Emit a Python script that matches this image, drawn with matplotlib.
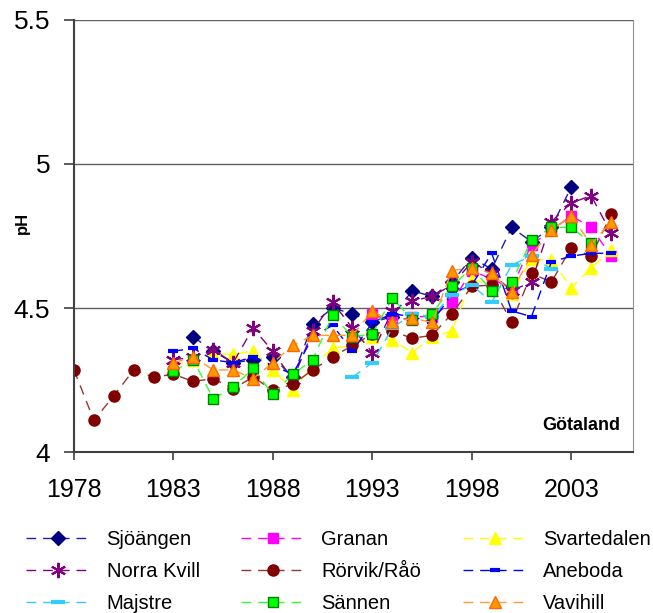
import numpy as np
import matplotlib
matplotlib.use("Agg")
from matplotlib import pyplot as plt
from matplotlib.ticker import FixedLocator, FuncFormatter

plt.rcParams['font.family'] = ['Liberation Sans', 'DejaVu Sans']

nan = np.nan
years = list(range(1978, 2006))

# pH per station, 1978..2005 (nan = no sample)
sjoangen = [nan] * 6 + [4.40, 4.35, 4.31, 4.32, 4.33, 4.26, 4.445, 4.50, 4.48, 4.45, 4.47, 4.56,
                        4.54, 4.59, 4.675, 4.635, 4.78, 4.73, 4.78, 4.92, nan, nan]
granan = [nan] * 15 + [4.48, 4.45, 4.47, 4.47, 4.52, 4.63, 4.60, 4.57, 4.72, 4.77, 4.82, 4.78, 4.68]
svartedalen = [nan] * 5 + [4.30, 4.32, 4.34, 4.34, 4.35, 4.285, 4.215, 4.30, 4.36, 4.37, 4.40, 4.39,
                           4.345, 4.40, 4.42, 4.60, 4.58, 4.55, 4.67, 4.665, 4.57, 4.64, 4.70]
norra_kvill = [nan] * 5 + [4.32, 4.33, 4.355, 4.31, 4.43, 4.35, 4.25, 4.42, 4.52, 4.43, 4.345, 4.49,
                           4.525, 4.54, 4.58, 4.66, 4.62, 4.56, 4.59, 4.80, 4.865, 4.89, 4.76]
rorvik = [4.285, 4.11, 4.195, 4.285, 4.26, 4.27, 4.245, 4.255, 4.22, 4.26, 4.215, 4.235, 4.285, 4.33,
          4.37, 4.41, 4.42, 4.395, 4.405, 4.48, 4.575, 4.58, 4.45, 4.62, 4.59, 4.71, 4.68, 4.825]
aneboda = [nan] * 5 + [4.35, 4.36, 4.32, 4.31, 4.33, 4.30, 4.27, 4.40, 4.44, 4.35, 4.45, 4.48,
                       4.47, 4.45, 4.55, 4.58, 4.69, 4.49, 4.47, 4.66, 4.68, 4.69, 4.69]
majstre = [nan] * 14 + [4.26, 4.31, 4.43, 4.48, 4.47, 4.545, 4.58, 4.52, 4.65, 4.68, 4.635, nan, nan, nan]
sannen = [nan] * 5 + [4.28, 4.32, 4.185, 4.225, 4.29, 4.20, 4.27, 4.32, 4.475, 4.40, 4.41, 4.535,
                      4.46, 4.48, 4.575, 4.64, 4.56, 4.59, 4.735, 4.78, 4.78, 4.725, nan]
vavihill = [nan] * 5 + [4.31, 4.33, 4.285, 4.285, 4.255, 4.31, 4.37, 4.405, 4.405, 4.405, 4.49, 4.45,
                        4.465, 4.45, 4.63, 4.64, 4.62, 4.555, 4.685, 4.77, 4.82, 4.72, 4.80]

# name, values, line colour, marker, marker size, face, edge
series = [
    ('Sjöängen', sjoangen, '#1F1F9F', 'D', 7, '#000080', '#000080'),
    ('Granan', granan, '#FF00FF', 's', 7, '#FF00FF', '#FF00FF'),
    ('Svartedalen', svartedalen, '#FFFF00', '^', 9, '#FFFF00', '#FFFF00'),
    ('Norra Kvill', norra_kvill, '#800080', (6, 2, 0), 11, '#800080', '#800080'),
    ('Rörvik/Råö', rorvik, '#993333', 'o', 8, '#800000', '#800000'),
    ('Aneboda', aneboda, '#0000FF', '_', 7, '#0000FF', '#0000FF'),
    ('Majstre', majstre, '#33CCFF', '_', 10, '#33CCFF', '#33CCFF'),
    ('Sännen', sannen, '#33FF33', 's', 7, '#00FF00', '#008000'),
    ('Vavihill', vavihill, '#FF9933', '^', 9, '#FF9900', '#FF6600'),
]

fig = plt.figure(figsize=(6.53, 6.13), dpi=100)
ax = fig.add_axes([0.1133, 0.2626, 0.856, 0.7048])

handles = {}
for name, vals, lc, mk, ms, fc, ec in series:
    mew = 1.5 if mk == (6, 2, 0) else (3 if mk == '_' else 1)
    ln, = ax.plot(years, vals, color=lc, lw=1, dashes=(7, 5), marker=mk, ms=ms,
                  markerfacecolor=fc, markeredgecolor=ec, markeredgewidth=mew, label=name)
    handles[name] = ln

ax.set_xlim(1978, 2006.1)
ax.set_ylim(4, 5.5)
ax.xaxis.set_major_locator(FixedLocator([1978, 1983, 1988, 1993, 1998, 2003]))
ax.yaxis.set_major_locator(FixedLocator([4, 4.5, 5, 5.5]))
ax.yaxis.set_major_formatter(FuncFormatter(lambda v, p: '%g' % v))
ax.tick_params(axis='x', labelsize=18, length=6, width=1.2, color='#404040', pad=13)
ax.tick_params(axis='y', labelsize=19, length=7, width=1.2, color='#404040', pad=10)
ax.grid(axis='y', color='#606060', lw=1)
ax.set_axisbelow(True)

ax.spines['top'].set_visible(False)
ax.spines['right'].set_color('#909090')
ax.spines['left'].set_color('#404040')
ax.spines['bottom'].set_color('#404040')
ax.spines['left'].set_linewidth(1.5)
ax.spines['bottom'].set_linewidth(1.5)

fig.text(22 / 653, 1 - 223 / 613, 'pH', rotation=90, ha='center', va='center',
         fontsize=12, fontweight='bold')
ax.text(0.977, 0.062, 'Götaland', transform=ax.transAxes, ha='right', va='center',
        fontsize=13, fontweight='bold')

# legend is column-filled, so reorder to read row by row like the original
order = ['Sjöängen', 'Norra Kvill', 'Majstre', 'Granan', 'Rörvik/Råö', 'Sännen',
         'Svartedalen', 'Aneboda', 'Vavihill']
fig.legend([handles[n] for n in order], order, ncol=3, frameon=False, fontsize=14.5,
           loc='upper left', bbox_to_anchor=(0.012, 0.165),
           handlelength=3.2, handletextpad=0.8, columnspacing=2.05, labelspacing=0.65)

fig.savefig('out.png', dpi=100)
